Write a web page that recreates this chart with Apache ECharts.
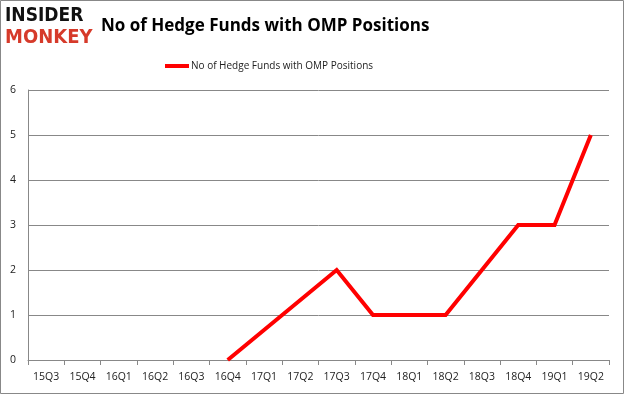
<!DOCTYPE html>
<html><head><meta charset="utf-8">
<script src="https://cdn.jsdelivr.net/npm/echarts@6/dist/echarts.min.js"></script>
<style>html,body{margin:0;padding:0;background:#fff}#c{width:625px;height:395px;}</style>
</head><body><div id="c"></div>
<script>
const categories = ['15Q3','15Q4','16Q1','16Q2','16Q3','16Q4','17Q1','17Q2','17Q3','17Q4','18Q1','18Q2','18Q3','18Q4','19Q1','19Q2'];
const fundCounts = [null,null,null,null,null,0,null,null,2,1,1,1,null,3,3,5];
const seriesName = 'No of Hedge Funds with OMP Positions';
const yTicks = [0,1,2,3,4,5,6];

const chart = echarts.init(document.getElementById('c'));
chart.setOption({
  animation:false,
  backgroundColor:'#fff',
  graphic:[
    {type:'rect',shape:{x:0.5,y:0.5,width:623,height:393},style:{fill:'none',stroke:'#888',lineWidth:1}},
    {type:'text',left:5,top:7,style:{text:'INSIDER',font:'900 19px "DejaVu Sans Condensed"',fill:'#111'}},
    {type:'text',left:5,top:28,style:{text:'MONKEY',font:'900 20px "DejaVu Sans Condensed"',fill:'#d63a2a'}}
  ],
  title:{text:'No of Hedge Funds with OMP Positions',left:96,top:13,
    textStyle:{fontFamily:'Open Sans',fontWeight:'bold',fontSize:17,color:'#000'}},
  legend:{top:56,left:160,itemWidth:24,itemHeight:4,icon:'rect',itemGap:4,
    textStyle:{fontFamily:'Open Sans',fontSize:10,color:'#222',padding:[0,0,0,-3]},
    data:[seriesName]},
  grid:{left:28,right:16,top:90,bottom:35},
  xAxis:{type:'category',data:categories,boundaryGap:true,
    axisLine:{lineStyle:{color:'#888'}},
    axisTick:{show:true,alignWithLabel:false,length:5,lineStyle:{color:'#888'}},
    axisLabel:{fontFamily:'Open Sans',fontSize:10.5,color:'#222',margin:12,interval:0}},
  yAxis:{type:'value',min:0,max:6,interval:1,
    axisLine:{show:true,lineStyle:{color:'#888'}},
    axisTick:{show:false},
    splitLine:{lineStyle:{color:'#888'}},
    axisLabel:{fontFamily:'Open Sans',fontSize:10.5,color:'#222',margin:12}},
  series:[{name:seriesName,type:'line',data:fundCounts,connectNulls:true,
    symbol:'none',lineStyle:{color:'#ff0000',width:4,join:'miter'},itemStyle:{color:'#ff0000'}}]
});
</script></body></html>
